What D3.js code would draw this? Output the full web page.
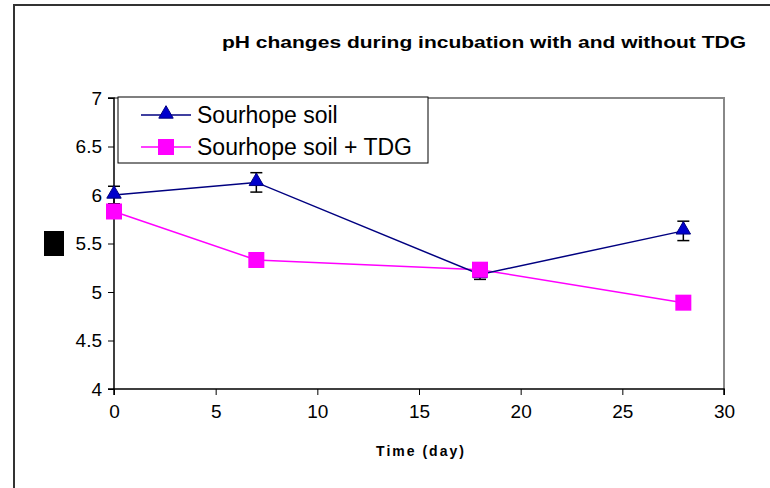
<!DOCTYPE html>
<html>
<head>
<meta charset="utf-8">
<script src="https://cdn.jsdelivr.net/npm/d3@7"></script>
<style>
  body { margin: 0; background: #fff; }
  svg { display: block; font-family: "Liberation Sans", Arial, sans-serif; }
</style>
</head>
<body>
<script>
var w = 770;
var h = 488;

// data
var days = [0, 7, 18, 28];
var soil = [6.0, 6.13, 5.18, 5.63];
var soilErr = [0.09, 0.1, 0.05, 0.1];
var soilTdg = [5.83, 5.33, 5.23, 4.89];
var seriesNames = ["Sourhope soil", "Sourhope soil + TDG"];
var xTicks = [0, 5, 10, 15, 20, 25, 30];
var yTicks = [4, 4.5, 5, 5.5, 6, 6.5, 7];

var plotLeft = 114, plotRight = 724, plotTop = 98, plotBottom = 389;

var xScale = d3.scaleLinear().domain([0, 30]).range([plotLeft, plotRight]);
var yScale = d3.scaleLinear().domain([4, 7]).range([plotBottom, plotTop]);

var svg = d3.select("body")
  .append("svg")
  .attr("width", w)
  .attr("height", h);

// outer frame
svg.append("rect")
  .attr("x", 14).attr("y", 5)
  .attr("width", w + 10).attr("height", h + 10)
  .attr("fill", "none")
  .attr("stroke", "#333")
  .attr("stroke-width", 2);

// title
svg.append("text")
  .attr("x", 222).attr("y", 48)
  .style("font-size", "17px")
  .attr("font-weight", "bold")
  .attr("textLength", 524)
  .attr("lengthAdjust", "spacingAndGlyphs")
  .text("pH changes during incubation with and without TDG");

// plot area border (grey top and right)
svg.append("path")
  .attr("d", "M" + plotLeft + "," + plotTop + "H" + plotRight + "V" + plotBottom)
  .attr("fill", "none")
  .attr("stroke", "#888")
  .attr("stroke-width", 2);

var xAxis = d3.axisBottom(xScale).tickValues(xTicks).tickSize(6).tickPadding(10).tickFormat(d3.format("d"));
var yAxis = d3.axisLeft(yScale).tickValues(yTicks).tickSize(6).tickPadding(6).tickFormat(function(d) { return d; });

var gx = svg.append("g")
  .attr("transform", "translate(0," + plotBottom + ")")
  .call(xAxis);
var gy = svg.append("g")
  .attr("transform", "translate(" + plotLeft + ",0)")
  .call(yAxis);

[gx, gy].forEach(function(g) {
  g.attr("font-size", null).attr("font-family", null);
  g.select(".domain").attr("stroke", "#000").attr("stroke-width", 1.5);
  g.selectAll(".tick line").attr("stroke", "#000");
  g.selectAll(".tick text")
    .style("font-size", "19px")
    .attr("fill", "#000");
});
gy.select(".domain").attr("d", "M-6," + plotTop + "H0V" + plotBottom + "H-6");
gx.select(".domain").attr("d", "M" + plotLeft + ",6V0H" + plotRight + "V6");

// axis title
svg.append("text")
  .attr("x", 421).attr("y", 456)
  .attr("text-anchor", "middle")
  .style("font-size", "14px")
  .attr("font-weight", "bold")
  .attr("letter-spacing", 2)
  .text("Time (day)");

// black box where the y label sits
svg.append("rect")
  .attr("x", 44).attr("y", 231)
  .attr("width", 20).attr("height", 25)
  .attr("fill", "#000");

var line = d3.line()
  .x(function(d, i) { return xScale(days[i]); })
  .y(function(d) { return yScale(d); });

svg.append("path")
  .datum(soilTdg)
  .attr("d", line)
  .attr("fill", "none")
  .attr("stroke", "#ff00ff")
  .attr("stroke-width", 1.5);

svg.append("path")
  .datum(soil)
  .attr("d", line)
  .attr("fill", "none")
  .attr("stroke", "#000080")
  .attr("stroke-width", 1.5);

// error bars
var eb = svg.selectAll(".err")
  .data(soil)
  .enter()
  .append("g")
  .attr("class", "err")
  .attr("stroke", "#000")
  .attr("stroke-width", 1.5);
eb.append("line")
  .attr("x1", function(d, i) { return xScale(days[i]); })
  .attr("x2", function(d, i) { return xScale(days[i]); })
  .attr("y1", function(d, i) { return yScale(d + soilErr[i]); })
  .attr("y2", function(d, i) { return yScale(d - soilErr[i]); });
eb.append("line")
  .attr("x1", function(d, i) { return xScale(days[i]) - 6; })
  .attr("x2", function(d, i) { return xScale(days[i]) + 6; })
  .attr("y1", function(d, i) { return yScale(d + soilErr[i]); })
  .attr("y2", function(d, i) { return yScale(d + soilErr[i]); });
eb.append("line")
  .attr("x1", function(d, i) { return xScale(days[i]) - 6; })
  .attr("x2", function(d, i) { return xScale(days[i]) + 6; })
  .attr("y1", function(d, i) { return yScale(d - soilErr[i]); })
  .attr("y2", function(d, i) { return yScale(d - soilErr[i]); });

var tri = d3.symbol().type(d3.symbolTriangle).size(90);

svg.selectAll(".tri")
  .data(soil)
  .enter()
  .append("path")
  .attr("class", "tri")
  .attr("d", tri)
  .attr("transform", function(d, i) { return "translate(" + xScale(days[i]) + "," + (yScale(d) - 1) + ")"; })
  .attr("fill", "#0000cc")
  .attr("stroke", "#000080")
  .attr("stroke-width", 1);

svg.selectAll(".sq")
  .data(soilTdg)
  .enter()
  .append("rect")
  .attr("class", "sq")
  .attr("x", function(d, i) { return xScale(days[i]) - 8; })
  .attr("y", function(d) { return yScale(d) - 8; })
  .attr("width", 16)
  .attr("height", 16)
  .attr("fill", "#ff00ff");

// legend
var lg = svg.append("g");
lg.append("rect")
  .attr("x", 118).attr("y", 97)
  .attr("width", 310).attr("height", 66)
  .attr("fill", "#fff")
  .attr("stroke", "#000")
  .attr("stroke-width", 1);

var rows = [115, 147];
lg.append("line").attr("x1", 141).attr("x2", 191).attr("y1", rows[0]).attr("y2", rows[0])
  .attr("stroke", "#000080").attr("stroke-width", 1.5);
lg.append("path").attr("d", tri)
  .attr("transform", "translate(166," + (rows[0] - 1) + ")")
  .attr("fill", "#0000cc").attr("stroke", "#000080");
lg.append("line").attr("x1", 141).attr("x2", 191).attr("y1", rows[1]).attr("y2", rows[1])
  .attr("stroke", "#ff00ff").attr("stroke-width", 1.5);
lg.append("rect").attr("x", 158).attr("y", rows[1] - 8).attr("width", 16).attr("height", 16)
  .attr("fill", "#ff00ff");

lg.selectAll(".lt")
  .data(seriesNames)
  .enter()
  .append("text")
  .attr("x", 197)
  .attr("y", function(d, i) { return rows[i] + 8; })
  .style("font-size", "23px")
  .text(function(d) { return d; });
</script>
</body>
</html>
